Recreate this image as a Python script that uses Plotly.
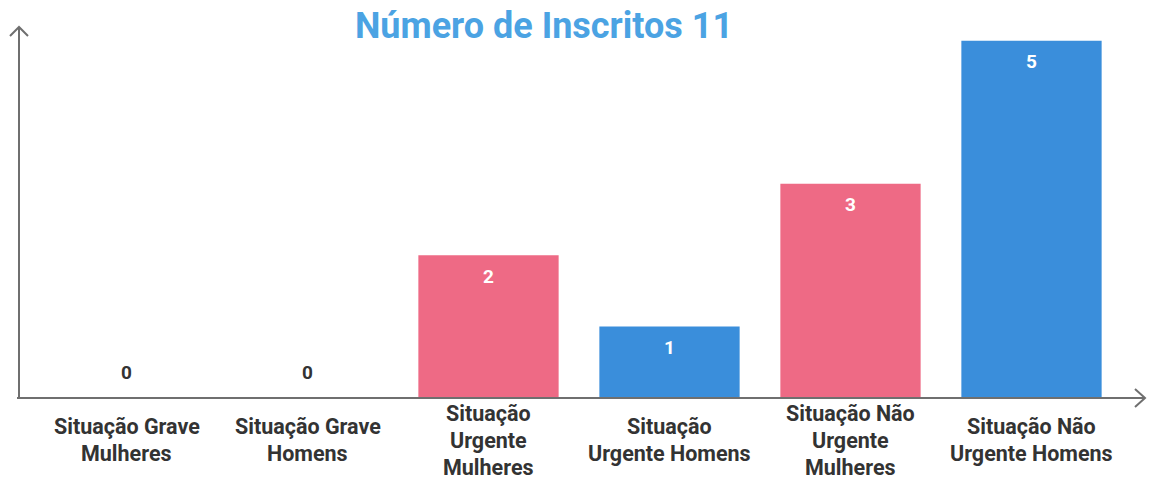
import plotly.graph_objects as go

categories = [
    "Situação Grave\nMulheres",
    "Situação Grave\nHomens",
    "Situação\nUrgente\nMulheres",
    "Situação\nUrgente Homens",
    "Situação Não\nUrgente\nMulheres",
    "Situação Não\nUrgente Homens",
]
values = [0, 0, 2, 1, 3, 5]
genders = ["F", "M", "F", "M", "F", "M"]
title_text = "Número de Inscritos 11"

PINK = "#EE6A85"
BLUE = "#3A8EDB"
colors = [PINK if g == "F" else BLUE for g in genders]

W, H = 1150, 481
L, R, T, B = 36, 28, 23, 83
pw, ph = W - L - R, H - T - B


def px(xp):
    return (xp - L) / pw


def py(yp):
    return (H - B - yp) / ph


fig = go.Figure()
fig.add_trace(go.Bar(
    x=list(range(len(categories))), y=values,
    marker=dict(color=colors, line=dict(width=0)),
    width=0.775, hoverinfo="skip",
))

annotations = []
# category labels (multi-line, vertically centred)
for i, lab in enumerate(categories):
    lines = lab.split("\n")
    n = len(lines)
    for j, line in enumerate(lines):
        annotations.append(dict(
            x=i, y=0, xref="x", yref="y", text=line, showarrow=False,
            yanchor="middle", xanchor="center", borderpad=0,
            yshift=-42 - (j - (n - 1) / 2) * 27,
            font=dict(family="Roboto", size=21.5, color="#333333", weight="bold"),
        ))
# value labels
for i, v in enumerate(values):
    if v == 0:
        annotations.append(dict(
            x=i, y=v, xref="x", yref="y", text=str(v), showarrow=False,
            yanchor="middle", yshift=26,
            font=dict(family="Roboto", size=19, color="#333333", weight="bold"),
        ))
    else:
        annotations.append(dict(
            x=i, y=v, xref="x", yref="y", text=str(v), showarrow=False,
            yanchor="middle", yshift=-21,
            font=dict(family="Roboto", size=19, color="white", weight="bold"),
        ))

axis_col = "#6f6f6f"
shapes = [
    dict(type="line", xref="paper", yref="paper", x0=px(17), x1=px(1144), y0=py(398), y1=py(398),
         line=dict(color=axis_col, width=2)),
    dict(type="path", xref="paper", yref="paper",
         path=f"M {px(1135)},{py(389)} L {px(1145)},{py(398)} L {px(1135)},{py(407)}",
         line=dict(color=axis_col, width=2)),
    dict(type="line", xref="paper", yref="paper", x0=px(19), x1=px(19), y0=py(398), y1=py(27),
         line=dict(color=axis_col, width=2)),
    dict(type="path", xref="paper", yref="paper",
         path=f"M {px(10)},{py(36)} L {px(19)},{py(27)} L {px(28)},{py(36)}",
         line=dict(color=axis_col, width=2)),
]

fig.update_layout(
    width=W, height=H,
    margin=dict(l=L, r=R, t=T, b=B),
    paper_bgcolor="white", plot_bgcolor="white",
    title=dict(text=title_text, x=544 / W, y=1 - 25 / H, xref="container", yref="container",
               xanchor="center", yanchor="middle",
               font=dict(family="Roboto", size=36, color="#4BA3E3", weight="bold")),
    xaxis=dict(range=[-0.5, len(categories) - 0.5], showticklabels=False, showgrid=False,
               zeroline=False, showline=False, ticks=""),
    yaxis=dict(range=[0, 5.25], showticklabels=False, showgrid=False, zeroline=False,
               showline=False, ticks=""),
    showlegend=False,
    annotations=annotations,
    shapes=shapes,
)

fig.write_html(
    "out.html",
    config={"displayModeBar": False},
    post_script="document.body.style.margin='0';document.body.style.padding='0';",
)
